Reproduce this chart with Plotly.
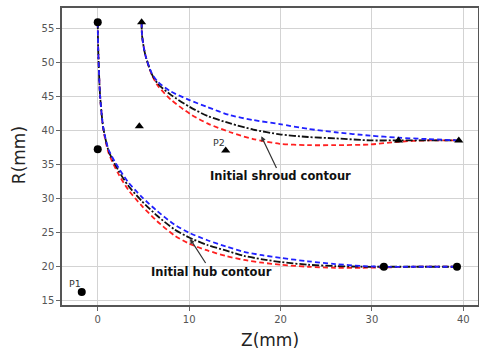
import plotly.graph_objects as go

# Hub contours (Z, R)
hub_z = [0, 0.05, 0.25, 0.6, 1.2, 2.25, 3.3, 4.8, 6.5, 8.4, 10, 12, 14, 16, 18, 20, 23, 26, 29, 31.3, 35, 39.3]
hub_black = [56, 52, 45.3, 40.5, 37.0, 34.2, 32.0, 29.7, 27.5, 25.5, 24.3, 23.2, 22.4, 21.6, 21.1, 20.7, 20.3, 20.1, 20.0, 20.0, 20.0, 20.0]
hub_blue = [56, 52, 45.3, 40.5, 37.2, 34.6, 32.5, 30.3, 28.2, 26.2, 25.0, 23.9, 23.0, 22.2, 21.7, 21.3, 20.8, 20.4, 20.1, 20.0, 20.0, 20.0]
hub_red = [56, 52, 45.3, 40.3, 36.7, 33.7, 31.4, 29.0, 26.7, 24.6, 23.4, 22.4, 21.6, 21.0, 20.6, 20.3, 20.0, 19.85, 19.85, 19.9, 20.0, 20.0]

# Shroud contours (Z, R)
sh_z = [4.8, 4.85, 5.2, 5.9, 6.6, 8, 10.1, 12, 14.5, 17, 19.9, 23, 26, 29.8, 32.9, 36, 39.5]
sh_black = [56, 54, 51.2, 48.4, 46.9, 45.3, 43.5, 42.2, 41.1, 40.2, 39.5, 39.1, 38.9, 38.6, 38.6, 38.6, 38.6]
sh_blue = [56, 54, 51.2, 48.5, 47.2, 45.8, 44.5, 43.5, 42.3, 41.6, 41.0, 40.3, 39.8, 39.3, 39.0, 38.8, 38.6]
sh_red = [56, 54, 51.2, 48.3, 46.6, 44.6, 42.5, 41.1, 39.8, 38.8, 38.1, 37.9, 37.9, 38.0, 38.4, 38.6, 38.6]

# Control points
hub_pts_z = [0, 0, -1.75, 31.3, 39.3]
hub_pts_r = [56, 37.3, 16.3, 20, 20]
sh_pts_z = [4.8, 4.55, 14.0, 32.9, 39.5]
sh_pts_r = [56, 40.7, 37.1, 38.6, 38.6]

x_ticks = [0, 10, 20, 30, 40]
y_ticks = [15, 20, 25, 30, 35, 40, 45, 50, 55]

fig = go.Figure()

def add_line(x, y, color, dash):
    fig.add_trace(go.Scatter(x=x, y=y, mode="lines",
                             line=dict(color=color, width=1.8, dash=dash,
                                       shape="spline", smoothing=0.7),
                             showlegend=False, hoverinfo="skip"))

DASH = "5px,3px"
DASHDOT = "7px,2px,2px,2px"
add_line(hub_z, hub_red, "#ff2020", DASH)
add_line(hub_z, hub_black, "#111111", DASHDOT)
add_line(hub_z, hub_blue, "#2020ff", DASH)
add_line(sh_z, sh_red, "#ff2020", DASH)
add_line(sh_z, sh_black, "#111111", DASHDOT)
add_line(sh_z, sh_blue, "#2020ff", DASH)

fig.add_trace(go.Scatter(x=hub_pts_z, y=hub_pts_r, mode="markers",
                         marker=dict(symbol="circle", size=8, color="black"),
                         showlegend=False))
fig.add_trace(go.Scatter(x=sh_pts_z, y=sh_pts_r, mode="markers",
                         marker=dict(symbol="triangle-up", size=8, color="black"),
                         showlegend=False))

fig.add_annotation(x=10.1, y=24.1, ax=12.4, ay=19.3, axref="x", ayref="y",
                   text="<b>Initial hub contour</b>", showarrow=True,
                   arrowhead=2, arrowsize=0.8, arrowwidth=1.2, arrowcolor="#333",
                   font=dict(family="DejaVu Sans", size=11.5, color="#111"))
fig.add_annotation(x=17.9, y=39.2, ax=20.0, ay=33.3, axref="x", ayref="y",
                   text="<b>Initial shroud contour</b>", showarrow=True,
                   arrowhead=2, arrowsize=0.8, arrowwidth=1.2, arrowcolor="#333",
                   font=dict(family="DejaVu Sans", size=11.5, color="#111"))
fig.add_annotation(x=-1.75, y=16.3, text="P1", showarrow=False,
                   xanchor="right", yanchor="bottom", xshift=1, yshift=1,
                   font=dict(family="DejaVu Sans", size=9.5, color="#333"))
fig.add_annotation(x=14.0, y=37.1, text="P2", showarrow=False,
                   xanchor="right", yanchor="bottom", xshift=1, yshift=1,
                   font=dict(family="DejaVu Sans", size=9.5, color="#333"))

# Axis titles placed as paper annotations
fig.add_annotation(xref="paper", yref="paper", x=0.5, y=-0.118, text="Z(mm)",
                   showarrow=False, xanchor="center", yanchor="middle",
                   font=dict(family="DejaVu Sans", size=17, color="#222"))
fig.add_annotation(xref="paper", yref="paper", x=-0.103, y=0.505, text="R(mm)",
                   showarrow=False, xanchor="center", yanchor="middle", textangle=-90,
                   font=dict(family="DejaVu Sans", size=17, color="#222"))

axis_common = dict(showgrid=True, gridcolor="#d3d3d3", gridwidth=1.3,
                   zeroline=False, showline=True, linecolor="#555", linewidth=1.5,
                   mirror=True, ticks="outside", ticklen=4, tickcolor="#666",
                   automargin=False,
                   tickfont=dict(family="DejaVu Sans", size=10, color="#555"))

fig.update_xaxes(range=[-3.91, 41.6], tickvals=x_ticks, **axis_common)
fig.update_yaxes(range=[14.37, 58.09], tickvals=y_ticks, **axis_common)

fig.update_layout(width=479, height=352, paper_bgcolor="white", plot_bgcolor="white",
                  margin=dict(l=62, r=1, t=8, b=47), showlegend=False)

fig.write_html("out.html", config={"displayModeBar": False},
               post_script="document.body.style.margin='0';document.body.style.overflow='hidden';")
